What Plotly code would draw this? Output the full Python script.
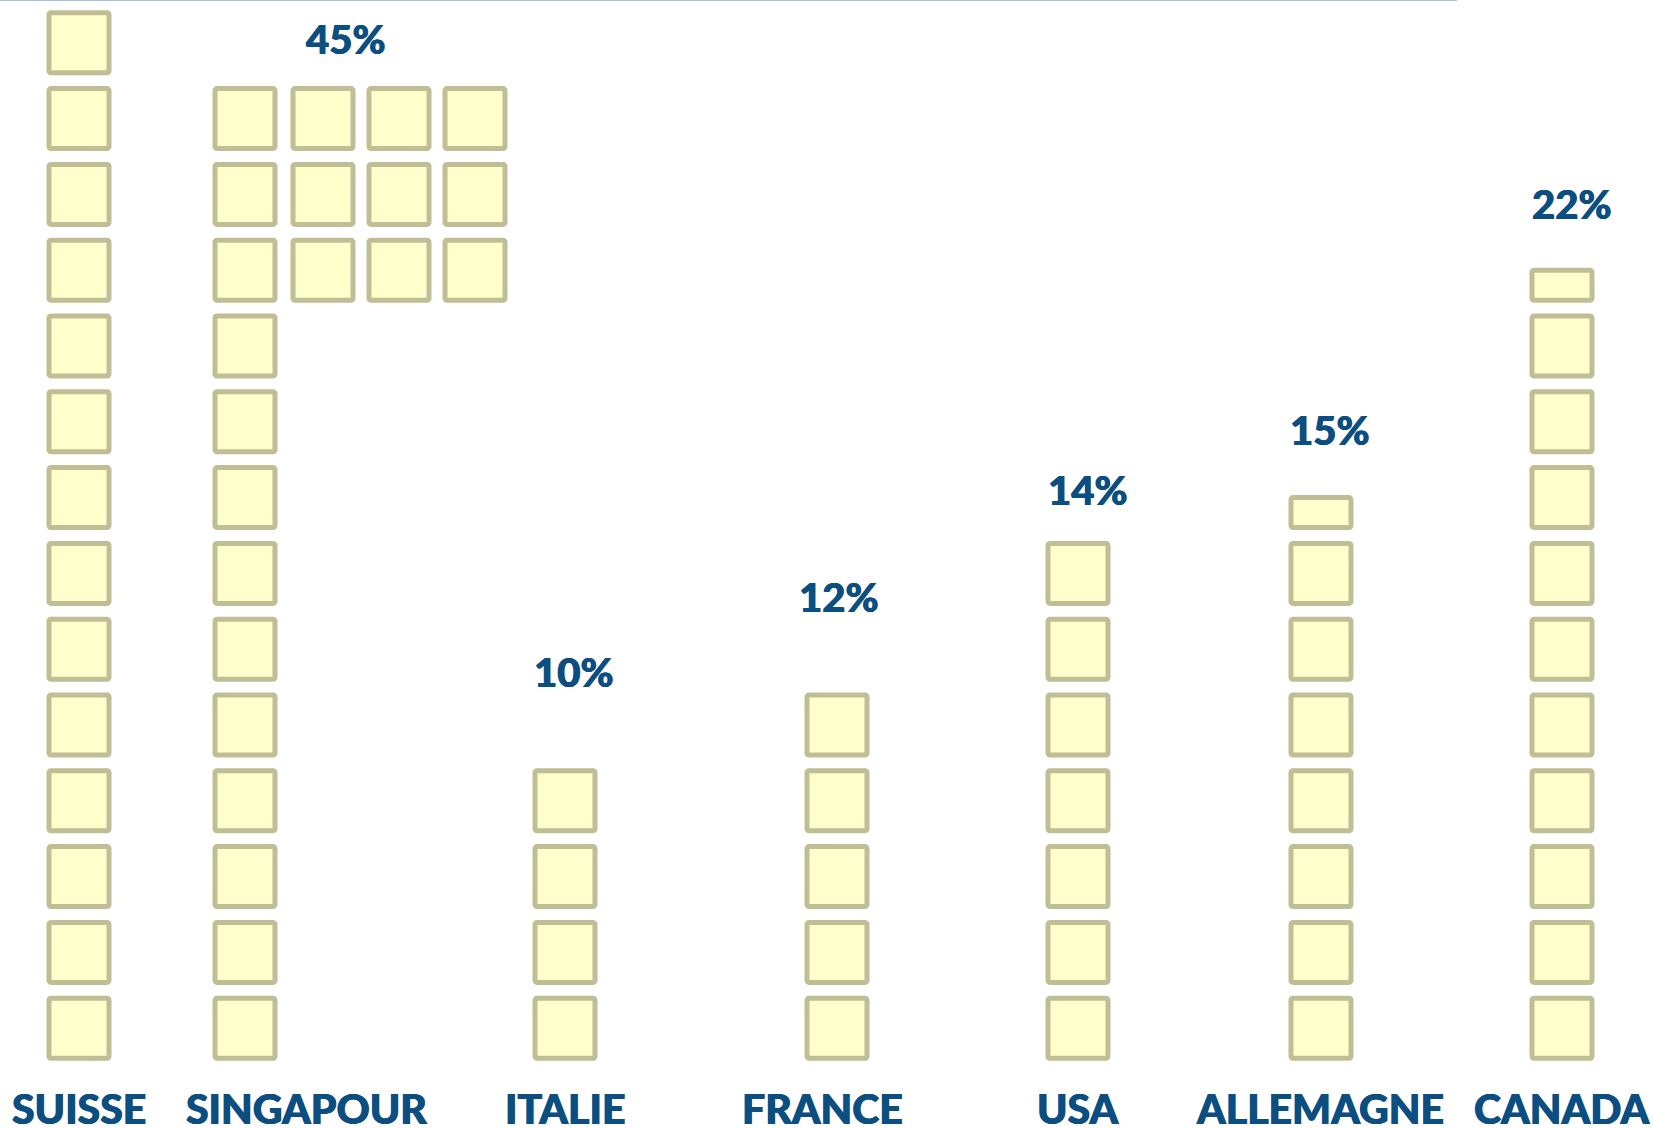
import math
import plotly.graph_objects as go

# ---- data ----
countries = ["SUISSE", "SINGAPOUR", "ITALIE", "FRANCE", "USA", "ALLEMAGNE", "CANADA"]
pct_labels = ["", "45%", "10%", "12%", "14%", "15%", "22%"]
squares = [14, 13, 4, 5, 7, 7.5, 10.5]          # squares stacked in the main column
singapour_extra = [3, 3, 3]                      # extra Singapore columns (squares each)
singapour_extra_start = 10                       # row index (0-based) where they start

# ---- layout helpers (pixel-like x axis, row-unit y axis) ----
W, H = 1653, 1129
col_x = [79, 245, 565, 837, 1078, 1321, 1562]
extra_x = [323, 399, 475]
label_x = [79, 306, 565, 822, 1078, 1320, 1562]
pct_x = [0, 345, 573, 838, 1087, 1329, 1571]
pct_y = [0, 13.45, 5.10, 6.09, 7.49, 8.29, 11.27]
PITCH = 75.8
BOTTOM_PX = 1058.2
SQ = 60 / PITCH      # square height in row units
BAR_W = 60

xs, bases, hs = [], [], []
for cx, n in zip(col_x, squares):
    for i in range(math.ceil(n)):
        frac = min(1.0, n - i)
        xs.append(cx)
        bases.append(i)
        hs.append(SQ * frac)
for cx, n in zip(extra_x, singapour_extra):
    for i in range(n):
        xs.append(cx)
        bases.append(singapour_extra_start + i)
        hs.append(SQ)

fig = go.Figure()
fig.add_trace(go.Bar(
    x=xs, y=hs, base=bases, width=BAR_W,
    marker=dict(color="#FFFFCC", line=dict(color="#BFBE95", width=5), cornerradius=2),
    hoverinfo="skip", showlegend=False,
))

TXT = "#0C4E7F"
SHADOW = f"0.5px 0 0 {TXT}, -0.5px 0 0 {TXT}"
ann = []
for x, t in zip(label_x, countries):
    ann.append(dict(x=x, y=(BOTTOM_PX - 1108) / PITCH, xref="x", yref="y", text=t,
                    showarrow=False, xanchor="center", yanchor="middle",
                    font=dict(family="Lato", size=41, color=TXT, weight=900, shadow=SHADOW)))
for x, y, t in zip(pct_x, pct_y, pct_labels):
    if t:
        ann.append(dict(x=x, y=y, xref="x", yref="y", text=t,
                        showarrow=False, xanchor="center", yanchor="middle",
                        font=dict(family="Lato", size=40, color=TXT, weight=900, shadow=SHADOW)))

fig.update_layout(
    width=W, height=H,
    margin=dict(l=0, r=0, t=0, b=0),
    paper_bgcolor="white", plot_bgcolor="white",
    barmode="overlay",
    annotations=ann,
    shapes=[dict(type="line", xref="x", yref="paper", x0=0, x1=1457, y0=1, y1=1,
                 line=dict(color="#A7C4D6", width=2))],
    xaxis=dict(range=[0, W], visible=False, fixedrange=True),
    yaxis=dict(range=[-(H - BOTTOM_PX) / PITCH, BOTTOM_PX / PITCH], visible=False, fixedrange=True),
)

fig.write_html("out.html", config={"displayModeBar": False},
               post_script="document.body.style.margin='0';document.body.style.overflow='hidden';")
